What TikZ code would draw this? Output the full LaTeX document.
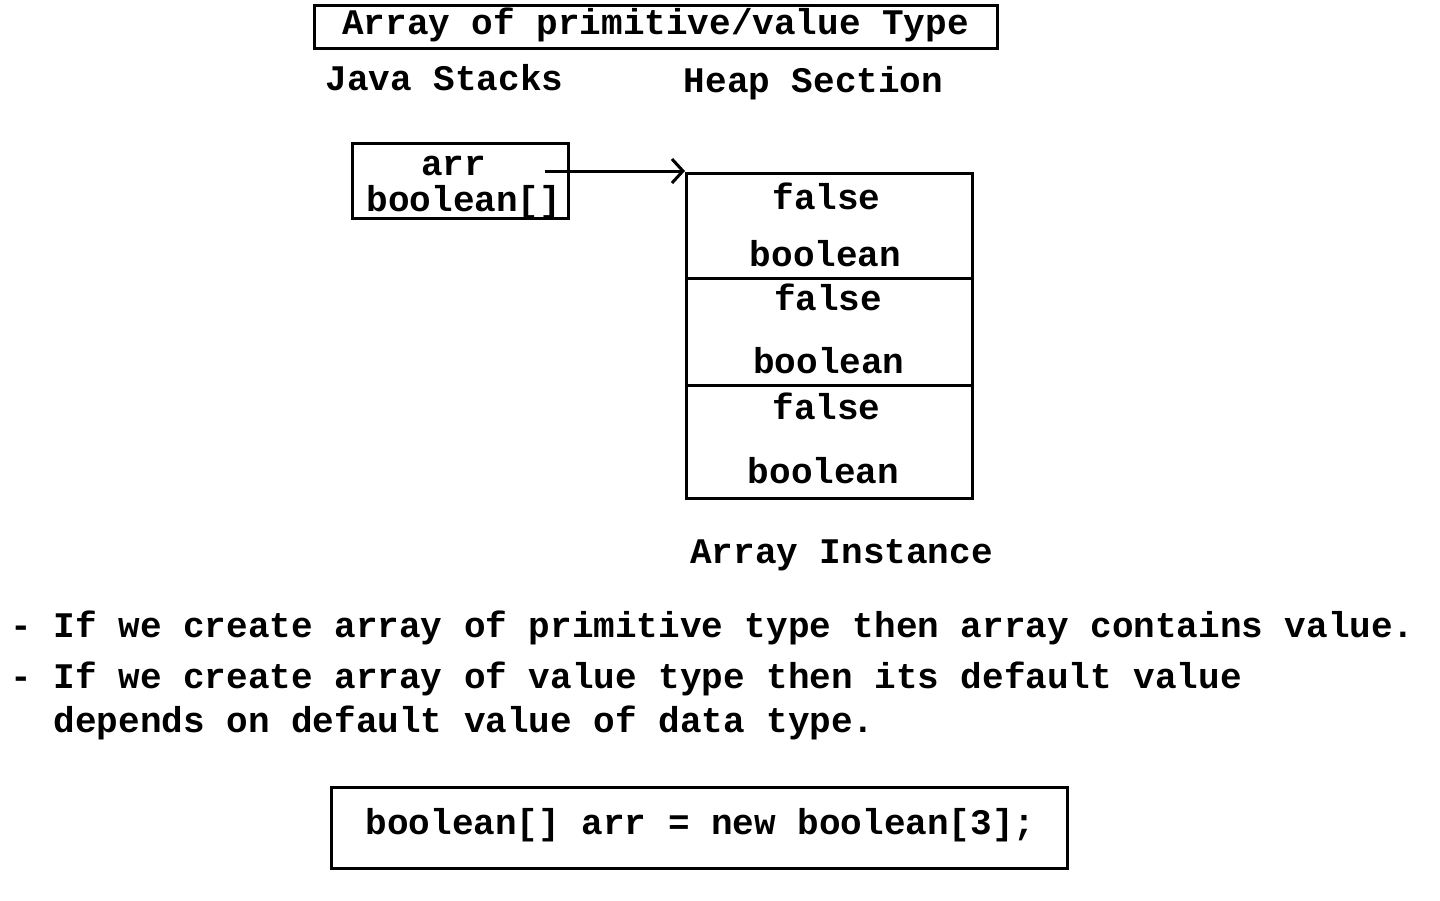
\documentclass[tikz,border=0pt]{standalone}
\usepackage{fontspec}
\setmonofont{Liberation Mono}
\usetikzlibrary{arrows.meta,positioning}

\begin{document}
\begin{tikzpicture}[
    x=0.5pt, y=-0.5pt,
    line width=1.5pt,
    every node/.style={font=\ttfamily\bfseries\fontsize{18}{22}\selectfont, inner sep=0pt},
    box node/.style={rectangle, draw, line width=1.5pt},
    cell node/.style={rectangle, draw, line width=1.5pt, minimum width=143pt},
    text node/.style={anchor=base}
]
\useasboundingbox (0,0) rectangle (1440,900);

% Title
\node[box node, minimum width=341.5pt, minimum height=21.5pt] (title) at (656,27) {};
\node[text node] (titletext) at (655.5,34) {Array of primitive/value Type};

% Section headings
\node[text node] (stacks) at (444.5,90) {Java Stacks};
\node[text node] (heap) at (813.5,92) {Heap Section};

% Reference on the stack
\node[box node, minimum width=108pt, minimum height=37.5pt] (arrbox) at (460.5,181) {};
\node[text node] (arrname) at (453.5,175) {arr};
\node[text node] (arrtype) at (464,211) {boolean[]};
\coordinate (arrptr) at (545,171);

% Array instance on the heap
\node[cell node, minimum height=52.25pt] (cell1) at (829.5,225.75) {};
\node[cell node, minimum height=53.5pt] (cell2) at (829.5,331.5) {};
\node[cell node, minimum height=56.75pt] (cell3) at (829.5,441.75) {};

\node[text node] (val1) at (826.5,209) {false};
\node[text node] (type1) at (825.5,266) {boolean};
\node[text node] (val2) at (828,310) {false};
\node[text node] (type2) at (829,373) {boolean};
\node[text node] (val3) at (826.5,419) {false};
\node[text node] (type3) at (823.5,483) {boolean};

\node[text node] (instance) at (841.5,563) {Array Instance};

% Notes
\node[anchor=base west] (note1) at (9,637) {- If we create array of primitive type then array contains value.};
\node[anchor=base west] (note2) at (9,688) {- If we create array of value type then its default value};
\node[anchor=base west] (note3) at (9,732) {\ \ depends on default value of data type.};

% Code
\node[box node, minimum width=368pt, minimum height=40.5pt] (code) at (699.5,828) {};
\node[text node] (codetext) at (700.5,834) {boolean[] arr = new boolean[3];};

% Arrow
\draw[-{Straight Barb[length=5.5pt,width=12pt,line width=1.5pt]}] (arrptr) -- (arrptr -| cell1.west);

\end{tikzpicture}
\end{document}
